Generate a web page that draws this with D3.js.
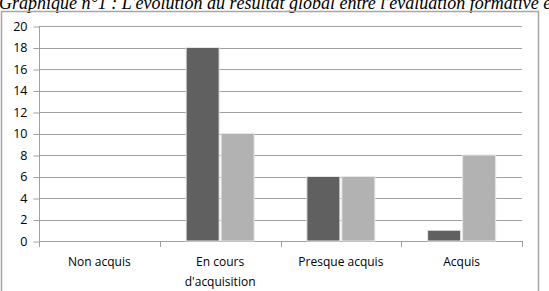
<!DOCTYPE html>
<html>
<head>
<meta charset="utf-8">
<script src="https://cdn.jsdelivr.net/npm/d3@7"></script>
<style>
body { margin: 0; background: #fff; overflow: hidden; }
</style>
</head>
<body>
<div id="chart"></div>
<script>
// données du graphique
const categories = ['Non acquis', "En cours\nd'acquisition", 'Presque acquis', 'Acquis']
const serie1 = [0, 18, 6, 1]   // évaluation formative (gris foncé)
const serie2 = [0, 10, 6, 8]   // évaluation finale (gris clair)
const yTicks = [0, 2, 4, 6, 8, 10, 12, 14, 16, 18, 20]
const titre = "Graphique n°1 : L'évolution du résultat global entre l'évaluation formative et l'évaluation sommative"

const width = 549
const height = 291
const svg = d3.select('#chart').append('svg').attr('width', width).attr('height', height)

// titre coupé en haut
svg.append('text').text(titre).attr('x', -1).attr('y', 9)
  .attr('font-family', 'Liberation Serif').attr('font-style', 'italic').attr('font-size', 18).attr('fill', '#000')

// cadre du graphique
svg.append('rect').attr('x', 1.5).attr('y', 11.5).attr('width', 537).attr('height', 290)
  .attr('fill', 'none').attr('stroke', '#a6a6a6').attr('stroke-width', 1.5)

const xScale = d3.scaleBand().domain(d3.range(categories.length)).range([39, 522])
const yScale = d3.scaleLinear().domain([0, 20]).range([241, 26])

// lignes de grille
svg.selectAll('.grid').data(yTicks).enter().append('line')
  .attr('x1', 39).attr('x2', 522)
  .attr('y1', d => Math.round(yScale(d)) + 0.5).attr('y2', d => Math.round(yScale(d)) + 0.5)
  .attr('stroke', '#a0a0a0').attr('stroke-width', 1)

// axe y
const yAxis = d3.axisLeft(yScale).tickValues(yTicks).tickSize(6).tickPadding(6)
const gy = svg.append('g').attr('transform', 'translate(39.5,0)').call(yAxis)
gy.selectAll('line').attr('stroke', '#a0a0a0').attr('transform', 'translate(0,0.5)')
gy.select('.domain').attr('stroke', '#a0a0a0').attr('d', `M0,${yScale(20)}V${yScale(0) + 1}`)
gy.selectAll('text').attr('font-family', 'Open Sans').attr('font-size', 12.5).attr('fill', '#000')
  .attr('dy', '0.35em')

// axe x (ticks aux frontières)
const bounds = d3.range(categories.length + 1).map(i => 39 + i * xScale.bandwidth())
svg.selectAll('.xt').data(bounds).enter().append('line')
  .attr('x1', d => Math.round(d) + 0.5).attr('x2', d => Math.round(d) + 0.5)
  .attr('y1', 241).attr('y2', 247).attr('stroke', '#a0a0a0')

// barres
const barW = 33
const gap = 2
function drawBars(values, offset, color) {
  svg.selectAll(null).data(values).enter().append('rect')
    .attr('x', (d, i) => xScale(i) + xScale.bandwidth() / 2 - barW - gap / 2 + offset)
    .attr('y', d => yScale(d))
    .attr('width', barW)
    .attr('height', d => yScale(0) - yScale(d))
    .attr('fill', color)
    .attr('stroke', '#e6e6e6').attr('stroke-width', d => d > 0 ? 1 : 0)
}
drawBars(serie1, 0, '#606060')
drawBars(serie2, barW + gap, '#b2b2b2')

// étiquettes des catégories
categories.forEach((c, i) => {
  const lines = c.split('\n')
  const t = svg.append('text').attr('text-anchor', 'middle')
    .attr('font-family', 'Open Sans').attr('font-size', 12).attr('fill', '#000')
  lines.forEach((l, j) => {
    t.append('tspan').text(l).attr('x', xScale(i) + xScale.bandwidth() / 2).attr('y', 266 + j * 19.5)
  })
})
</script>
</body>
</html>
